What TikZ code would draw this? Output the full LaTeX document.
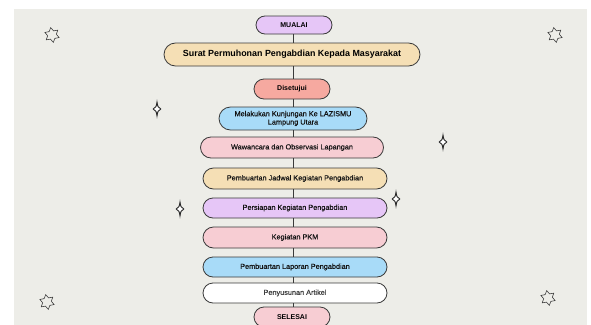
\documentclass[tikz,border=0pt]{standalone}
\usepackage{fontspec}
\setmainfont{Liberation Sans}
\newfontfamily\medfont[FakeBold=0.35]{Liberation Sans}
\usetikzlibrary{shapes.geometric}
\definecolor{bgc}{HTML}{EDEDE8}
\definecolor{lav}{HTML}{E6C6F7}
\definecolor{tan}{HTML}{F5DFB5}
\definecolor{salm}{HTML}{F6A9A0}
\definecolor{lblue}{HTML}{A8DBF8}
\definecolor{lpink}{HTML}{F7CDD3}
\definecolor{edge}{HTML}{3A3A3A}
\begin{document}
\begin{tikzpicture}[x=1pt,y=-1pt,
  box/.style={draw=edge,line width=0.8pt,rounded corners=#1,inner sep=0pt,align=center,text=black!92,font=\medfont\fontsize{7.3}{8.3}\selectfont},
  boldtxt/.style={text=black,font=\bfseries\fontsize{7}{8}\selectfont},
  link/.style={draw=edge,line width=0.9pt},
  bigstar/.style={draw=black!75,line width=0.6pt,star,star points=6,star point ratio=1.7,minimum size=15pt,inner sep=0pt},
  sparkle/.style={draw=black!85,line width=0.9pt,fill=white}]
\useasboundingbox (0,0) rectangle (591,324);
\fill[bgc] (14,9) rectangle (587,330);
% nodes
\node[box=9pt,fill=lav,minimum width=76pt,minimum height=18pt,boldtxt] (n0) at (294,25) {MUALAI};
\node[box=11.5pt,fill=tan,minimum width=256pt,minimum height=23pt,text=black,font=\bfseries\fontsize{8.9}{10}\selectfont] (n1) at (292,54.5) {Surat Permuhonan Pengabdian Kepada Masyarakat};
\node[box=10pt,fill=salm,minimum width=76pt,minimum height=20pt,boldtxt] (n2) at (292,89) {Disetujui};
\node[box=11.5pt,fill=lblue,minimum width=148pt,minimum height=23pt] (n3) at (293,118.5) {Melakukan Kunjungan Ke LAZISMU\\Lampung Utara};
\node[box=10.5pt,fill=lpink,minimum width=183pt,minimum height=21pt] (n4) at (292,147.5) {Wawancara dan Observasi Lapangan};
\node[box=10.5pt,fill=tan,minimum width=184pt,minimum height=21pt] (n5) at (295,178.5) {Pembuartan Jadwal Kegiatan Pengabdian};
\node[box=10pt,fill=lav,minimum width=184pt,minimum height=20pt] (n6) at (295,208) {Persiapan Kegiatan Pengabdian};
\node[box=10.5pt,fill=lpink,minimum width=184pt,minimum height=21pt] (n7) at (295,237.5) {Kegiatan PKM};
\node[box=10pt,fill=lblue,minimum width=184pt,minimum height=20pt] (n8) at (295,267) {Pembuartan Laporan Pengabdian};
\node[box=10pt,fill=white,minimum width=184pt,minimum height=20pt,text=black!75] (n9) at (295,293) {Penyusunan Artikel};
\node[box=10pt,fill=lpink,minimum width=76pt,minimum height=20pt,boldtxt] (n10) at (292,317) {SELESAI};
% connectors
\foreach \a/\b in {n0/n1,n1/n2,n2/n3,n3/n4,n4/n5,n5/n6,n6/n7,n7/n8,n8/n9,n9/n10}{
  \draw[link] (\a.south -| 293,0) -- (\b.north -| 293,0);
}
% decorative stars
\node[bigstar,rotate=10] (s1) at (52,35) {};
\node[bigstar,rotate=10] (s2) at (555,35) {};
\node[bigstar,rotate=10] (s3) at (47,302) {};
\node[bigstar,rotate=10] (s4) at (548,298) {};
% sparkles
\foreach \x/\y in {157/109,443/142,180/209,396/199}{
  \draw[sparkle] (\x,\y-7) .. controls (\x+0.8,\y-2) .. (\x+3.8,\y) .. controls (\x+0.8,\y+2) .. (\x,\y+7) .. controls (\x-0.8,\y+2) .. (\x-3.8,\y) .. controls (\x-0.8,\y-2) .. cycle;
}
\end{tikzpicture}
\end{document}
